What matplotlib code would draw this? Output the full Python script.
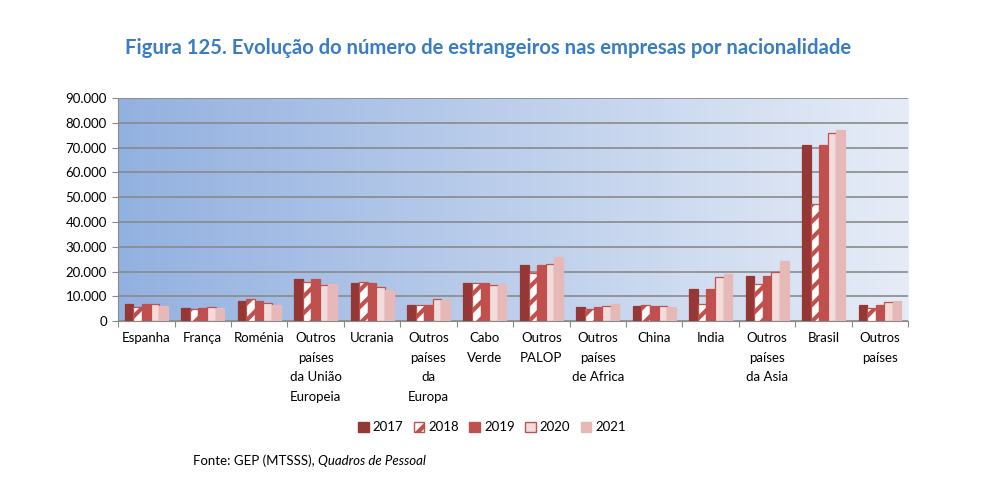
import matplotlib
matplotlib.use("Agg")
import matplotlib.pyplot as plt
from matplotlib.colors import LinearSegmentedColormap
from matplotlib.patches import Patch
import numpy as np

plt.rcParams['font.family'] = ['Lato', 'DejaVu Sans']
plt.rcParams['hatch.linewidth'] = 3.0

categories = ['Espanha', 'França', 'Roménia', 'Outros\npaíses\nda União\nEuropeia', 'Ucrania',
              'Outros\npaíses\nda\nEuropa', 'Cabo\nVerde', 'Outros\nPALOP', 'Outros\npaíses\nde Africa',
              'China', 'India', 'Outros\npaíses\nda Asia', 'Brasil', 'Outros\npaíses']
years = ['2017', '2018', '2019', '2020', '2021']

v2017 = [7000, 5100, 8100, 16800, 15200, 6700, 15400, 22500, 5700, 6200, 12800, 18300, 71100, 6700]
v2018 = [5800, 4700, 8800, 15600, 15800, 6300, 15400, 19300, 4700, 6300, 6900, 15000, 47200, 5100]
v2019 = [7000, 5100, 8100, 16800, 15200, 6700, 15400, 22500, 5700, 6100, 12800, 18300, 71100, 6700]
v2020 = [7000, 5500, 7400, 14500, 13600, 8800, 14600, 23000, 6000, 6000, 17800, 19800, 75700, 7800]
v2021 = [6000, 5400, 6700, 14800, 12600, 8600, 14800, 26000, 6900, 5500, 18900, 24100, 77100, 8200]
series = [v2017, v2018, v2019, v2020, v2021]

faces = ['#953735', 'white', '#c0504d', '#f2dcdb', '#e6b9b8']
edges = ['#953735', '#c0504d', '#c0504d', '#c0504d', '#e6b9b8']
hatches = [None, '//', None, None, None]

fig = plt.figure(figsize=(9.84, 4.8), dpi=100)
ax = fig.add_axes([0.12, 0.331, 0.803, 0.465])

n = len(categories)
x = np.arange(n)
w = 0.152

# gradient background
cmap = LinearSegmentedColormap.from_list('bg', ['#93b1e0', '#e6ecf7'])
grad = np.linspace(0, 1, 256).reshape(1, -1)
ax.imshow(grad, cmap=cmap, aspect='auto', extent=[-0.5, n - 0.5, 0, 90000], zorder=0)

for i, vals in enumerate(series):
    ax.bar(x + (i - 2) * w, vals, w, color=faces[i], edgecolor=edges[i],
           hatch=hatches[i], linewidth=0.9, zorder=3)

ax.set_xlim(-0.5, n - 0.5)
ax.set_ylim(0, 90000)
yt = np.arange(0, 90001, 10000)
ax.set_yticks(yt)
ax.set_yticklabels(['0'] + ['{:,}'.format(v).replace(',', '.') for v in yt[1:]], fontsize=9.5)
ax.yaxis.grid(True, color='#8a8a8a', linewidth=1.2, zorder=1)
ax.set_axisbelow(True)

ax.set_xticks(np.arange(-0.5, n, 1))
ax.set_xticklabels([])
ax.set_xticks(x, minor=True)
ax.set_xticklabels(categories, minor=True, fontsize=9.5, va='top', linespacing=1.75)
ax.tick_params(axis='x', which='minor', length=0, pad=8)
ax.tick_params(axis='x', which='major', length=4, color='#8a8a8a', direction='out')
ax.tick_params(axis='y', length=4, color='#8a8a8a', pad=4)

for s in ['top', 'right']:
    ax.spines[s].set_visible(False)
for s in ['left', 'bottom']:
    ax.spines[s].set_color('#8a8a8a')

fig.text(0.496, 0.9, 'Figura 125. Evolução do número de estrangeiros nas empresas por nacionalidade',
         ha='center', va='center', fontsize=14.6, fontweight='bold', color='#3a7cc4')

handles = [Patch(facecolor=faces[i], edgecolor=edges[i], hatch=hatches[i], label=years[i])
           for i in range(5)]
fig.legend(handles=handles, loc='center', bbox_to_anchor=(0.5, 0.11), ncol=5, frameon=False,
           fontsize=9.5, handlelength=0.8, handleheight=0.8, handletextpad=0.3, columnspacing=0.8)

t1 = fig.text(0.196, 0.04, 'Fonte: GEP (MTSSS), ', ha='left', va='center', fontsize=9.5)
fig.canvas.draw()
bb = t1.get_window_extent().transformed(fig.transFigure.inverted())
fig.text(bb.x1, 0.04, 'Quadros de Pessoal', ha='left', va='center', fontsize=9.5, style='italic')

fig.savefig('out.png', dpi=100)
